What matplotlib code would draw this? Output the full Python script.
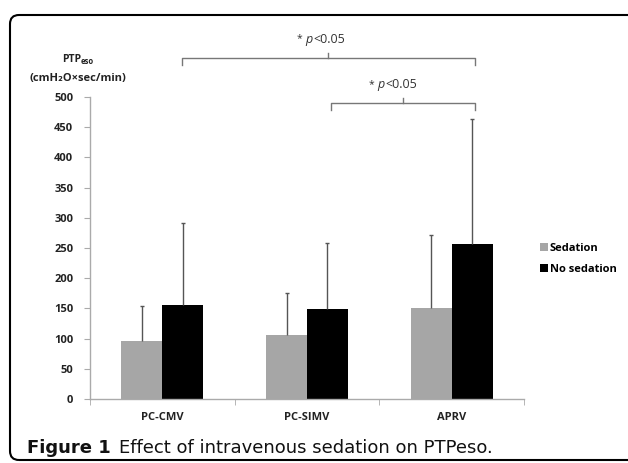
import matplotlib
matplotlib.use("Agg")
import matplotlib.pyplot as plt
from matplotlib.patches import FancyBboxPatch
from matplotlib.transforms import IdentityTransform
import numpy as np

categories = ["PC-CMV", "PC-SIMV", "APRV"]
series_names = ["Sedation", "No sedation"]
sedation = [96, 106, 150]
no_sedation = [156, 149, 257]
sedation_upper = [154, 175, 272]
no_sedation_upper = [292, 258, 464]
yticks = [0, 50, 100, 150, 200, 250, 300, 350, 400, 450, 500]

plt.rcParams['font.family'] = ['Open Sans', 'DejaVu Sans']

fig = plt.figure(figsize=(6.28, 4.63), dpi=100)
W, H = 628, 463
ax = fig.add_axes([90 / W, 1 - 399 / H, 434 / W, 302 / H])

x = np.arange(len(categories))
bw = 0.283
gray = "#a6a6a6"
ax.bar(x - bw / 2, sedation, bw, color=gray, label=series_names[0], zorder=2)
ax.bar(x + bw / 2, no_sedation, bw, color="black", label=series_names[1], zorder=2)

errc = "#555555"
for xs, v, u in ((x - bw / 2, sedation, sedation_upper), (x + bw / 2, no_sedation, no_sedation_upper)):
    ax.vlines(xs, v, u, color=errc, lw=1.0, zorder=3)
    ax.scatter(xs, u, marker="_", s=12, color=errc, lw=1.0, zorder=3)

ax.set_xlim(-0.5, 2.5)
ax.set_ylim(0, 500)
ax.set_yticks(yticks)
ax.set_yticklabels([str(t) for t in yticks], fontsize=8, fontweight="bold", color="#222222")
ax.set_xticks(x)
ax.set_xticklabels(categories, fontsize=8, fontweight="bold", color="#222222")
ax.tick_params(axis="x", length=0, pad=9)
ax.tick_params(axis="y", length=4, color="#aaaaaa", pad=8)
ax.set_xticks([-0.5, 0.5, 1.5, 2.5], minor=True)
ax.tick_params(axis="x", which="minor", length=4, color="#aaaaaa")
for s in ["top", "right"]:
    ax.spines[s].set_visible(False)
for s in ["left", "bottom"]:
    ax.spines[s].set_color("#aaaaaa")
    ax.spines[s].set_linewidth(1.0)

# significance brackets
bc = "#777777"
def bracket(x0, x1, y, xm, tx, ty):
    ax.plot([x0, x0, x1, x1], [y - 12, y, y, y - 12], color=bc, lw=1.0, clip_on=False)
    ax.plot([xm, xm], [y, y + 8], color=bc, lw=1.0, clip_on=False)
    ax.text(tx, ty, "*", fontsize=7.5, ha="right", va="center", color="#333333", clip_on=False)
    ax.text(tx + 0.02, ty, "p", fontsize=9, style="italic", ha="left", va="center", color="#333333", clip_on=False)
    ax.text(tx + 0.075, ty, "<0.05", fontsize=9, ha="left", va="center", color="#333333", clip_on=False)

bracket(0.138, 2.159, 565, 1.145, 0.97, 596)
bracket(1.166, 2.159, 490, 1.662, 1.465, 521)

# y label
fig.text(81 / W, 1 - 60 / H, "PTP", fontsize=7.5, fontweight="bold", ha="right", va="center", color="#222222")
fig.text(81 / W, 1 - 61.5 / H, "eso", fontsize=5.5, fontweight="bold", ha="left", va="center", color="#222222")
fig.text(78 / W, 1 - 78 / H, "(cmH\u2082O\u00d7sec/min)", fontsize=8, fontweight="bold", ha="center", va="center", color="#222222")

# legend
fig.legend(loc="upper left", bbox_to_anchor=(530 / W, 1 - 233 / H), frameon=False,
           handlelength=0.7, handleheight=0.7, handletextpad=0.2, labelspacing=0.9,
           prop={"weight": "bold", "size": 8})

# caption
cap_font = ['DejaVu Sans']
t1 = fig.text(27 / W, 1 - 448 / H, "Figure 1", fontsize=13, fontweight="bold", family=cap_font,
              ha="left", va="center", color="#111111")
fig.canvas.draw()
bb = t1.get_window_extent()
fig.text((bb.x1 + 8) / W, 1 - 448 / H, "Effect of intravenous sedation on PTPeso.", fontsize=13,
         family=cap_font, ha="left", va="center", color="#111111")

# frame
frame = FancyBboxPatch((10, 3), 700, 445, boxstyle="round,pad=0,rounding_size=9",
                       transform=IdentityTransform(), fill=False, ec="black", lw=1.5, clip_on=False)
fig.patches.append(frame)

fig.savefig("out.png", dpi=100)
